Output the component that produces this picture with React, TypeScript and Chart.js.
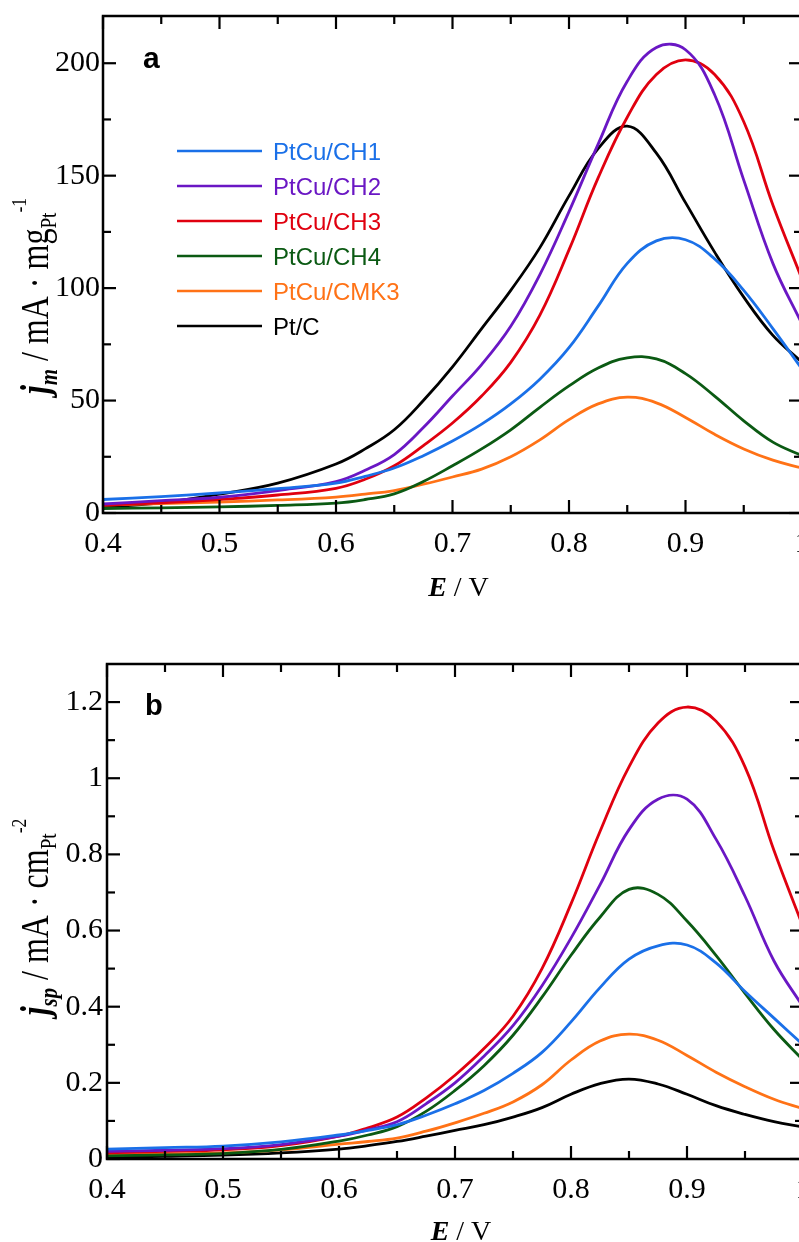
import React, { useEffect, useRef } from 'react';
import { Chart, registerables } from 'chart.js';

Chart.register(...registerables);

// ---------- data ----------
const E = [0.4, 0.45, 0.5, 0.55, 0.6, 0.625, 0.65, 0.675, 0.7, 0.725, 0.75, 0.775, 0.8, 0.825, 0.85, 0.875, 0.9, 0.925, 0.95, 0.975, 1.0];

const seriesNames = ['PtCu/CH1', 'PtCu/CH2', 'PtCu/CH3', 'PtCu/CH4', 'PtCu/CMK3', 'Pt/C'];
const seriesColors = ['#1a70e8', '#6a17c4', '#e0000f', '#0b5a13', '#ff7216', '#000000'];

// panel a: mass activity (mA mg_Pt^-1)
const jmCH1 = [6, 7.3, 8.9, 10.8, 13.3, 16.3, 20, 25.5, 32, 39.5, 48.5, 59.5, 73.5, 92, 111, 121, 121.5, 113, 99, 82, 64];
const jmCH2 = [4, 5.5, 7, 10, 14, 19, 26, 38, 52, 66, 83, 106, 134, 164, 192, 207, 206, 186, 148, 111, 84];
const jmCH3 = [3.5, 4.5, 6, 8, 11, 15, 21, 30, 40, 52, 67, 88, 117, 149, 176, 195, 201.5, 195, 174, 137, 104];
const jmCH4 = [2, 2.3, 2.7, 3.4, 4.4, 6, 8.5, 14, 21, 28.5, 37, 47, 56.5, 64.5, 69, 68.5, 62, 52, 41, 31.5, 25.5];
const jmCMK3 = [3.5, 4.2, 4.9, 5.8, 7.1, 8.4, 10, 12.8, 16, 19.5, 25, 32.5, 41.5, 48.5, 51.5, 49, 42.5, 35, 28.5, 23.5, 20];
const jmPtC = [2.5, 4.5, 8.4, 13.3, 21.8, 28.5, 37, 50, 65, 82, 99, 118, 141, 162, 172, 160, 138, 116, 96, 79, 67];

// panel b: specific activity (mA cm_Pt^-2)
const jspCH1 = [0.026, 0.03, 0.034, 0.045, 0.063, 0.075, 0.09, 0.115, 0.145, 0.18, 0.225, 0.28, 0.36, 0.45, 0.525, 0.56, 0.562, 0.515, 0.44, 0.37, 0.3];
const jspCH2 = [0.02, 0.023, 0.027, 0.038, 0.06, 0.077, 0.098, 0.145, 0.2, 0.27, 0.35, 0.455, 0.58, 0.72, 0.865, 0.945, 0.945, 0.84, 0.69, 0.52, 0.4];
const jspCH3 = [0.016, 0.02, 0.024, 0.035, 0.06, 0.082, 0.11, 0.16, 0.22, 0.29, 0.375, 0.5, 0.67, 0.86, 1.03, 1.145, 1.187, 1.15, 1.03, 0.81, 0.61];
const jspCH4 = [0.008, 0.011, 0.014, 0.025, 0.047, 0.063, 0.085, 0.125, 0.18, 0.245, 0.325, 0.425, 0.535, 0.635, 0.708, 0.695, 0.625, 0.535, 0.435, 0.34, 0.26];
const jspCMK3 = [0.013, 0.014, 0.016, 0.024, 0.039, 0.046, 0.055, 0.073, 0.095, 0.12, 0.15, 0.195, 0.26, 0.31, 0.328, 0.312, 0.272, 0.228, 0.19, 0.157, 0.132];
const jspPtC = [0.005, 0.007, 0.01, 0.016, 0.026, 0.035, 0.046, 0.06, 0.075, 0.09, 0.11, 0.135, 0.17, 0.198, 0.21, 0.197, 0.17, 0.14, 0.117, 0.098, 0.084];

// ticks
const xMajorTicks = [0.4, 0.5, 0.6, 0.7, 0.8, 0.9, 1.0];
const xMinorTicks = [0.45, 0.55, 0.65, 0.75, 0.85, 0.95];
const yMajorA = [0, 50, 100, 150, 200];
const yMinorA = [25, 75, 125, 175];
const yMajorB = [0, 0.2, 0.4, 0.6, 0.8, 1.0, 1.2];
const yMinorB = [0.1, 0.3, 0.5, 0.7, 0.9, 1.1];

// ---------- styling ----------
const SERIF = '"Liberation Serif", "Times New Roman", serif';
const SANS = '"Liberation Sans", Arial, sans-serif';
const CANVAS_W = 840;
const CANVAS_H = 621;

type Seg = { t: string; font: string; dy: number };

const fmt = (v: number) => String(Math.round(v * 100) / 100);

function richWidth(ctx: CanvasRenderingContext2D, segs: Seg[]) {
  let w = 0;
  for (const s of segs) {
    ctx.font = s.font;
    w += ctx.measureText(s.t).width;
  }
  return w;
}

function drawRich(ctx: CanvasRenderingContext2D, segs: Seg[], x: number, y: number) {
  for (const s of segs) {
    ctx.font = s.font;
    ctx.fillText(s.t, x, y + s.dy);
    x += ctx.measureText(s.t).width;
  }
}

type PanelCfg = {
  series: number[][];
  yMin: number;
  yMax: number;
  yStep: number;
  yMajor: number[];
  yMinor: number[];
  yAxisWidth: number;
  yTickPad: number;
  xAxisHeight: number;
  padTop: number;
  padRight: number;
  letter: string;
  letterFont: string;
  letterDx: number;
  letterDy: number;
  yTitle: Seg[];
  yTitleX: number;
  yTitleY: number;
  xTitleBaseline: number;
  legend: boolean;
};

const BIG = `40px ${SERIF}`;
const BIGBI = `italic bold 40px ${SERIF}`;
const SUBBI = `italic bold 26px ${SERIF}`;
const SUB = `24px ${SERIF}`;
const SUP = `22px ${SERIF}`;

const panelA: PanelCfg = {
  series: [jmCH1, jmCH2, jmCH3, jmCH4, jmCMK3, jmPtC],
  yMin: 0,
  yMax: 221,
  yStep: 50,
  yMajor: yMajorA,
  yMinor: yMinorA,
  yAxisWidth: 103,
  yTickPad: 3,
  xAxisHeight: 108,
  padTop: 16,
  padRight: CANVAS_W - 802,
  letter: 'a',
  letterFont: `bold 30px ${SANS}`,
  letterDx: 40,
  letterDy: 52,
  yTitle: [
    { t: 'j', font: BIGBI, dy: 0 },
    { t: 'm', font: SUBBI, dy: 9 },
    { t: ' / mA \u00b7 mg', font: BIG, dy: 0 },
    { t: 'Pt', font: SUB, dy: 8 },
    { t: '-1', font: SUP, dy: -22 },
  ],
  yTitleX: 48,
  yTitleY: 296,
  xTitleBaseline: 596,
  legend: true,
};

const panelB: PanelCfg = {
  series: [jspCH1, jspCH2, jspCH3, jspCH4, jspCMK3, jspPtC],
  yMin: 0,
  yMax: 1.3,
  yStep: 0.2,
  yMajor: yMajorB,
  yMinor: yMinorB,
  yAxisWidth: 107,
  yTickPad: 4,
  xAxisHeight: 83,
  padTop: 43,
  padRight: CANVAS_W - 803,
  letter: 'b',
  letterFont: `bold 29px ${SANS}`,
  letterDx: 38,
  letterDy: 51,
  yTitle: [
    { t: 'j', font: BIGBI, dy: 0 },
    { t: 'sp', font: SUBBI, dy: 9 },
    { t: ' / mA \u00b7 cm', font: BIG, dy: 0 },
    { t: 'Pt', font: SUB, dy: 8 },
    { t: '-2', font: SUP, dy: -22 },
  ],
  yTitleX: 48,
  yTitleY: 296,
  xTitleBaseline: 619,
  legend: false,
};

function makeDecor(cfg: PanelCfg) {
  return {
    id: 'decor',
    afterDatasetsDraw(chart: any) {
      const ctx: CanvasRenderingContext2D = chart.ctx;
      const { left, right, top, bottom } = chart.chartArea;
      const xs = chart.scales.x;
      const ys = chart.scales.y;
      const line = (x1: number, y1: number, x2: number, y2: number) => {
        ctx.beginPath();
        ctx.moveTo(x1, y1);
        ctx.lineTo(x2, y2);
        ctx.stroke();
      };
      ctx.save();
      ctx.strokeStyle = '#000';
      ctx.lineCap = 'butt';
      ctx.lineWidth = 2.2;
      const MAJ = 13;
      const MIN = 8;
      for (const v of xMajorTicks) {
        const p = xs.getPixelForValue(v);
        line(p, bottom, p, bottom - MAJ);
        line(p, top, p, top + MAJ);
      }
      for (const v of xMinorTicks) {
        const p = xs.getPixelForValue(v);
        line(p, bottom, p, bottom - MIN);
        line(p, top, p, top + MIN);
      }
      for (const v of cfg.yMajor) {
        const p = ys.getPixelForValue(v);
        line(left, p, left + MAJ, p);
        line(right, p, right - MAJ, p);
      }
      for (const v of cfg.yMinor) {
        const p = ys.getPixelForValue(v);
        line(left, p, left + MIN, p);
        line(right, p, right - MIN, p);
      }
      ctx.lineWidth = 2.5;
      ctx.strokeRect(left, top, right - left, bottom - top);

      // panel letter
      ctx.fillStyle = '#000';
      ctx.textAlign = 'left';
      ctx.textBaseline = 'alphabetic';
      ctx.font = cfg.letterFont;
      ctx.fillText(cfg.letter, left + cfg.letterDx, top + cfg.letterDy);

      // legend
      if (cfg.legend) {
        chart.data.datasets.forEach((ds: any, i: number) => {
          const yy = top + 135 + i * 35;
          ctx.strokeStyle = ds.borderColor;
          ctx.lineWidth = 2.6;
          line(left + 74, yy, left + 159, yy);
          ctx.fillStyle = ds.borderColor;
          ctx.font = `24px ${SANS}`;
          ctx.fillText(ds.label, left + 170, yy + 8.5);
        });
      }

      // x title
      ctx.fillStyle = '#000';
      const xt: Seg[] = [
        { t: 'E', font: `italic bold 28px ${SERIF}`, dy: 0 },
        { t: ' / V', font: `28px ${SERIF}`, dy: 0 },
      ];
      const xw = richWidth(ctx, xt);
      drawRich(ctx, xt, (left + right) / 2 + 6 - xw / 2, cfg.xTitleBaseline);

      // y title (rotated)
      ctx.translate(cfg.yTitleX, cfg.yTitleY);
      ctx.rotate(-Math.PI / 2);
      ctx.scale(0.8, 1);
      const yw = richWidth(ctx, cfg.yTitle);
      drawRich(ctx, cfg.yTitle, -yw / 2, 0);
      ctx.restore();
    },
  };
}

function buildChart(canvas: HTMLCanvasElement, cfg: PanelCfg) {
  return new Chart(canvas, {
    type: 'line',
    data: {
      labels: E,
      datasets: cfg.series.map((vals, i) => ({
        label: seriesNames[i],
        data: vals.map((v, k) => ({ x: E[k], y: v })),
        borderColor: seriesColors[i],
        backgroundColor: seriesColors[i],
        borderWidth: 2.8,
        pointRadius: 0,
        tension: 0.4,
        fill: false,
      })),
    },
    options: {
      animation: false,
      responsive: false,
      devicePixelRatio: 1,
      events: [],
      layout: { padding: { top: cfg.padTop, right: cfg.padRight, bottom: 0, left: 0 } },
      plugins: { legend: { display: false }, tooltip: { enabled: false }, title: { display: false } },
      scales: {
        x: {
          type: 'linear',
          min: 0.4,
          max: 1.0,
          grid: { display: false, drawTicks: false },
          border: { display: false },
          ticks: {
            stepSize: 0.1,
            autoSkip: false,
            maxRotation: 0,
            includeBounds: false,
            padding: 13,
            color: '#000',
            font: { family: SERIF, size: 30 },
            callback: (v: any) => fmt(Number(v)),
          },
          afterFit: (s: any) => {
            s.height = cfg.xAxisHeight;
            s.paddingLeft = 0;
            s.paddingRight = 0;
          },
        },
        y: {
          type: 'linear',
          min: cfg.yMin,
          max: cfg.yMax,
          grid: { display: false, drawTicks: false },
          border: { display: false },
          ticks: {
            stepSize: cfg.yStep,
            autoSkip: false,
            includeBounds: false,
            padding: cfg.yTickPad,
            color: '#000',
            font: { family: SERIF, size: 30 },
            callback: (v: any) => fmt(Number(v)),
          },
          afterFit: (s: any) => {
            s.width = cfg.yAxisWidth;
            s.paddingTop = 0;
            s.paddingBottom = 0;
          },
        },
      },
    },
    plugins: [makeDecor(cfg)],
  } as any);
}

function Panel({ cfg, top }: { cfg: PanelCfg; top: number }) {
  const ref = useRef<HTMLCanvasElement | null>(null);
  useEffect(() => {
    if (!ref.current) return;
    const chart = buildChart(ref.current, cfg);
    return () => chart.destroy();
  }, [cfg]);
  return (
    <canvas
      ref={ref}
      width={CANVAS_W}
      height={CANVAS_H}
      style={{ position: 'absolute', left: 0, top, width: CANVAS_W, height: CANVAS_H }}
    />
  );
}

export default function App() {
  return (
    <div
      style={{
        position: 'absolute',
        left: 0,
        top: 0,
        width: 799,
        height: 1242,
        overflow: 'hidden',
        background: '#fff',
      }}
    >
      <Panel cfg={panelA} top={0} />
      <Panel cfg={panelB} top={621} />
    </div>
  );
}
